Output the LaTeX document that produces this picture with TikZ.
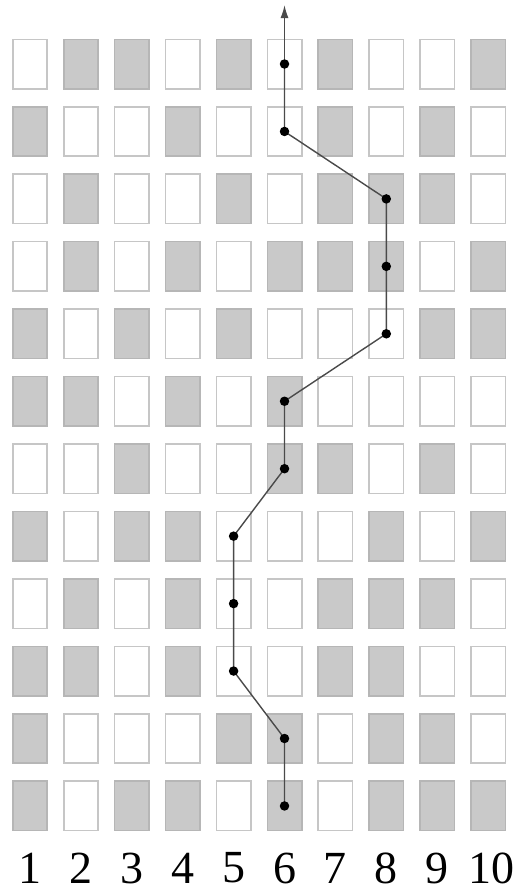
\documentclass[tikz,border=0pt]{standalone}
\usepackage{fontspec}
\setmainfont{Liberation Serif}
\usetikzlibrary{arrows.meta}
\definecolor{cellgrey}{HTML}{C9C9C9}
\definecolor{cellgreyedge}{HTML}{B6B6B6}
\definecolor{celledge}{HTML}{C6C6C6}
\definecolor{pathgrey}{HTML}{4A4A4A}
\begin{document}
\begin{tikzpicture}[x=1pt,y=1pt,
  cell/.style={rectangle,inner sep=0pt,minimum width=34.4pt,minimum height=49.4pt,line width=1.6pt},
  cell0/.style={cell,draw=celledge,fill=white},
  cell1/.style={cell,draw=cellgreyedge,fill=cellgrey},
  dot/.style={circle,fill=black,inner sep=0pt,minimum size=9.5pt},
  route/.style={draw=pathgrey,line width=1.4pt},
  collabel/.style={inner sep=0pt,font=\fontsize{46}{46}\selectfont}]
\useasboundingbox (0,0) rectangle (519,-892);
\fill[white] (0,0) rectangle (519,-892);
\foreach \r/\pat in {
  1/{0,1,1,0,1,0,1,0,0,1},
  2/{1,0,0,1,0,0,1,0,1,0},
  3/{0,1,0,0,1,0,1,1,1,0},
  4/{0,1,0,1,0,1,1,1,0,1},
  5/{1,0,1,0,1,0,0,0,1,1},
  6/{1,1,0,1,0,1,0,0,0,0},
  7/{0,0,1,0,0,1,1,0,1,0},
  8/{1,0,1,1,0,0,0,1,0,1},
  9/{0,1,0,1,0,0,1,1,1,0},
  10/{1,1,0,1,0,0,1,1,0,0},
  11/{1,0,0,0,1,1,0,1,1,0},
  12/{1,0,1,1,0,1,0,1,1,1}} {
  \foreach \v [count=\c] in \pat {
    \node[cell\v] (c-\r-\c) at ({30+(\c-1)*50.9},{-(64+(\r-1)*67.45)}) {};
  }
}
% column labels
\foreach \c in {1,...,9} {
  \node[collabel] (lab-\c) at ({30+(\c-1)*50.9},-868) {\c};
}
\node[collabel] (lab-10) at ({30+9*50.9+3},-868) {10};
% route
\coordinate (top) at ({30+5*50.9},-5);
\draw[route] (c-12-6.center) -- (c-11-6.center) -- (c-10-5.center) -- (c-9-5.center)
  -- (c-8-5.center) -- (c-7-6.center) -- (c-6-6.center) -- (c-5-8.center)
  -- (c-4-8.center) -- (c-3-8.center) -- (c-2-6.center) -- (c-1-6.center);
\draw[route,-{Latex[length=13pt,width=8pt]}] (c-1-6.center) -- (top);
\foreach \r/\c in {12/6,11/6,10/5,9/5,8/5,7/6,6/6,5/8,4/8,3/8,2/6,1/6} {
  \node[dot] (d-\r) at (c-\r-\c.center) {};
}
\end{tikzpicture}
\end{document}
